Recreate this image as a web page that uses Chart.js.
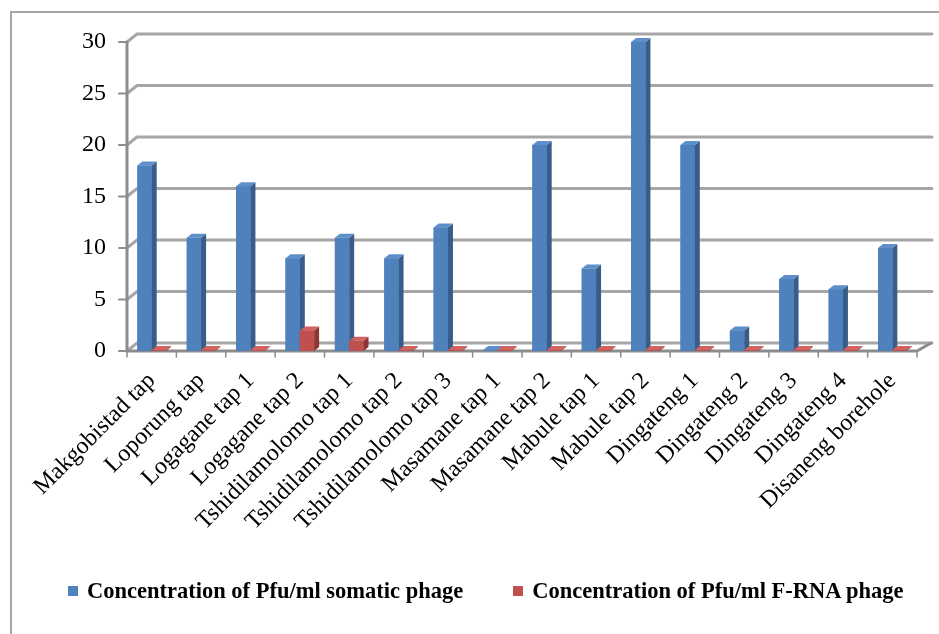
<!DOCTYPE html>
<html>
<head>
<meta charset="utf-8">
<title>Phage concentration by sampling site</title>
<script src="https://cdn.jsdelivr.net/npm/chart.js@4/dist/chart.umd.min.js"></script>
<style>
    body { margin: 0; background: #fff; overflow: hidden; }
    #frame {
        position: absolute; left: 10px; top: 11px;
        width: 1000px; height: 700px;
        border: 2px solid #a6a6a6;
    }
    #wrap { position: absolute; left: 0; top: 0; width: 939px; height: 634px; }
    #legend {
        position: absolute; left: 68px; top: 578px;
        display: flex; align-items: center; gap: 50px;
        font: bold 22.5px 'Liberation Serif', 'Times New Roman', serif;
        color: #000;
    }
    #legend .item { display: flex; align-items: center; white-space: nowrap; }
    #legend .box { width: 10px; height: 10px; margin-right: 9px; }
</style>
</head>
<body>
<div id="frame"></div>
<div id="wrap">
    <canvas id="phageChart" width="939" height="634"></canvas>
    <div id="legend"></div>
</div>
<script>
// Sampling sites (x axis categories)
const sites = [
    'Makgobistad tap', 'Loporung tap', 'Logagane tap 1', 'Logagane tap 2',
    'Tshidilamolomo tap 1', 'Tshidilamolomo tap 2', 'Tshidilamolomo tap 3',
    'Masamane tap 1', 'Masamane tap 2', 'Mabule tap 1', 'Mabule tap 2',
    'Dingateng 1', 'Dingateng 2', 'Dingateng 3', 'Dingateng 4', 'Disaneng borehole'
];

// Series values (Pfu/ml)
const somaticPhage = [18, 11, 16, 9, 11, 9, 12, 0, 20, 8, 30, 20, 2, 7, 6, 10];
const fRnaPhage = [0, 0, 0, 2, 1, 0, 0, 0, 0, 0, 0, 0, 0, 0, 0, 0];

// Series names
const seriesNames = [
    'Concentration of Pfu/ml somatic phage',
    'Concentration of Pfu/ml F-RNA phage'
];

// Y axis range
const yMin = 0;
const yMax = 30;
const yStep = 5;

const COLORS = {
    blue: { front: '#4f81bd', side: '#385d8a', top: '#5f8fca' },
    red: { front: '#c0504d', side: '#8c3533', top: '#d0625f' },
    grid: '#a6a6a6',
    axis: '#8c8c8c'
};

const SERIF = "'Liberation Serif', 'Times New Roman', serif";

/**
 * Pseudo-3D look: back wall gridlines, front axes, bar sides and tops
 */
const Depth3D = {
    id: 'depth3d',
    wall: { dx: 10, dy: -8 },
    bar: { dx: 5, dy: -4 },

    beforeDatasetsDraw(chart) {
        const { ctx, chartArea: area, scales } = chart;
        const y = scales.y;
        const x = scales.x;
        const w = this.wall;

        ctx.save();
        ctx.lineCap = 'round';

        // back wall gridlines + diagonal connectors
        ctx.strokeStyle = COLORS.grid;
        ctx.lineWidth = 3;
        y.ticks.forEach(t => {
            const py = y.getPixelForValue(t.value);
            ctx.beginPath();
            ctx.moveTo(area.left, py);
            ctx.lineTo(area.left + w.dx, py + w.dy);
            ctx.lineTo(area.right + w.dx + 5, py + w.dy);
            ctx.stroke();
        });

        // front y axis with tick marks
        ctx.strokeStyle = COLORS.axis;
        ctx.beginPath();
        ctx.moveTo(area.left, area.top);
        ctx.lineTo(area.left, area.bottom);
        ctx.stroke();
        ctx.lineWidth = 2;
        y.ticks.forEach(t => {
            const py = y.getPixelForValue(t.value);
            ctx.beginPath();
            ctx.moveTo(area.left - 8, py);
            ctx.lineTo(area.left, py);
            ctx.stroke();
        });

        // front x axis (floor edge) with tick marks at category borders
        ctx.lineWidth = 3;
        ctx.beginPath();
        ctx.moveTo(area.left, area.bottom);
        ctx.lineTo(area.right, area.bottom);
        ctx.lineTo(area.right + w.dx + 4, area.bottom + w.dy);
        ctx.stroke();
        ctx.lineWidth = 1.5;
        const half = (x.getPixelForValue(1) - x.getPixelForValue(0)) / 2;
        for (let i = 0; i <= sites.length; i++) {
            const px = x.getPixelForValue(i) - half;
            ctx.beginPath();
            ctx.moveTo(px, area.bottom);
            ctx.lineTo(px, area.bottom + 6);
            ctx.stroke();
        }
        ctx.restore();
    },

    afterDatasetsDraw(chart) {
        const { ctx } = chart;
        const b = this.bar;
        const palettes = [COLORS.blue, COLORS.red];

        ctx.save();
        chart.data.datasets.forEach((ds, di) => {
            const meta = chart.getDatasetMeta(di);
            const pal = palettes[di];
            meta.data.forEach(bar => {
                const { x, y, base, width } = bar.getProps(['x', 'y', 'base', 'width'], true);
                const l = x - width / 2;
                const r = x + width / 2;
                const top = Math.min(y, base - 1);

                // front face
                ctx.fillStyle = pal.front;
                ctx.fillRect(l, top, width, base - top);

                // right side
                ctx.fillStyle = pal.side;
                ctx.beginPath();
                ctx.moveTo(r, top);
                ctx.lineTo(r + b.dx, top + b.dy);
                ctx.lineTo(r + b.dx, base + b.dy);
                ctx.lineTo(r, base);
                ctx.closePath();
                ctx.fill();

                // top face
                ctx.fillStyle = pal.top;
                ctx.beginPath();
                ctx.moveTo(l, top);
                ctx.lineTo(l + b.dx, top + b.dy);
                ctx.lineTo(r + b.dx, top + b.dy);
                ctx.lineTo(r, top);
                ctx.closePath();
                ctx.fill();
            });
        });
        ctx.restore();
    }
};

const chart = new Chart(document.getElementById('phageChart'), {
    type: 'bar',
    data: {
        labels: sites,
        datasets: [
            {
                label: seriesNames[0],
                data: somaticPhage,
                backgroundColor: COLORS.blue.front,
                categoryPercentage: 0.58,
                barPercentage: 1.0
            },
            {
                label: seriesNames[1],
                data: fRnaPhage,
                backgroundColor: COLORS.red.front,
                categoryPercentage: 0.58,
                barPercentage: 1.0
            }
        ]
    },
    options: {
        responsive: false,
        animation: false,
        layout: { padding: { left: 0, right: 22, top: 42, bottom: 83 } },
        scales: {
            x: {
                grid: { display: false },
                border: { display: false },
                ticks: {
                    autoSkip: false,
                    minRotation: 45,
                    maxRotation: 45,
                    padding: 8,
                    color: '#000',
                    font: { family: SERIF, size: 24 }
                },
                afterFit(scale) { scale.height = 200; }
            },
            y: {
                min: yMin,
                max: yMax,
                grid: { display: false },
                border: { display: false },
                ticks: {
                    stepSize: yStep,
                    padding: 13,
                    color: '#000',
                    font: { family: SERIF, size: 24 }
                },
                afterFit(scale) { scale.width = 127; }
            }
        },
        plugins: {
            legend: { display: false },
            tooltip: { enabled: false }
        }
    },
    plugins: [Depth3D]
});

// HTML legend built from the chart's datasets
const legendEl = document.getElementById('legend');
chart.data.datasets.forEach(ds => {
    const item = document.createElement('div');
    item.className = 'item';
    const box = document.createElement('span');
    box.className = 'box';
    box.style.background = ds.backgroundColor;
    const text = document.createElement('span');
    text.textContent = ds.label;
    item.appendChild(box);
    item.appendChild(text);
    legendEl.appendChild(item);
});
</script>
</body>
</html>
